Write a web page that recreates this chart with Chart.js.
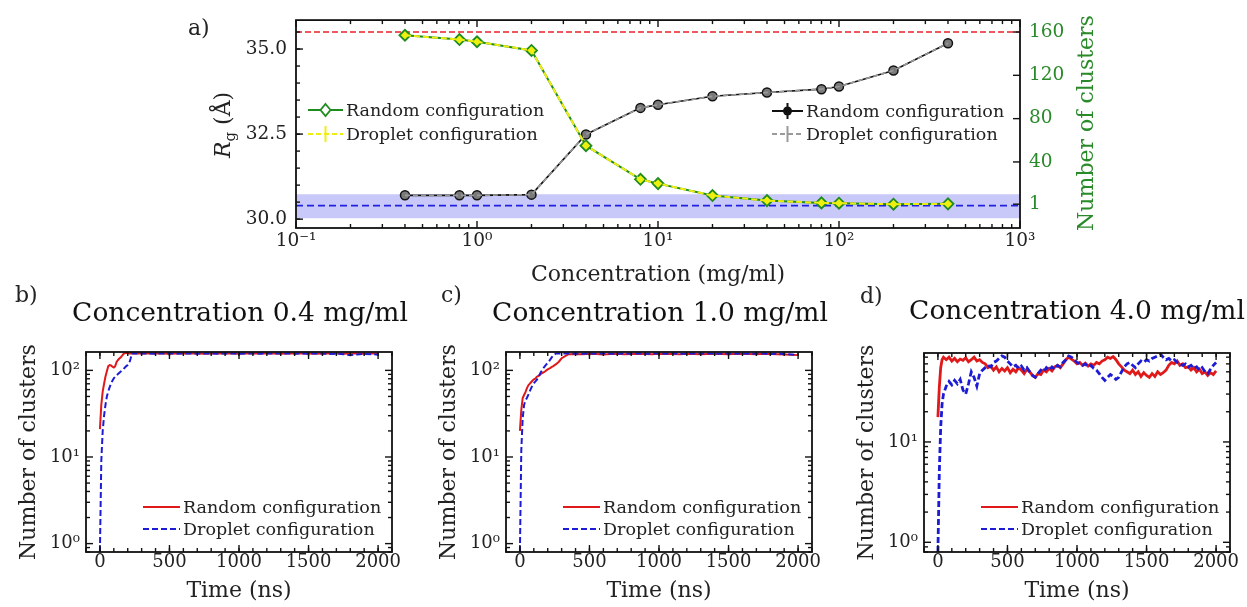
<!DOCTYPE html>
<html lang="en">
<head>
<meta charset="UTF-8">
<title>Radius of gyration and number of clusters</title>
<script src="https://cdn.jsdelivr.net/npm/chart.js@4.4.1/dist/chart.umd.min.js"></script>
<style>
  body { margin: 0; background: #fff; }
  #wrap { position: relative; width: 1247px; height: 607px; }
  #wrap canvas { position: absolute; left: 0; top: 0; }
</style>
</head>
<body>
<div id="wrap">
  <canvas id="chartA" width="1247" height="607"></canvas>
  <canvas id="chartB" width="1247" height="607"></canvas>
  <canvas id="chartC" width="1247" height="607"></canvas>
  <canvas id="chartD" width="1247" height="607"></canvas>
</div>
<script>
// ---- panel a: Rg and number of clusters vs concentration ----
const concentration = [0.4, 0.8, 1, 2, 4, 8, 10, 20, 40, 80, 100, 200, 400];
const rgRandom  = [30.70, 30.70, 30.70, 30.72, 32.49, 33.27, 33.36, 33.61, 33.72, 33.82, 33.90, 34.37, 35.17];
const rgDroplet = [30.70, 30.70, 30.70, 30.72, 32.49, 33.27, 33.36, 33.61, 33.72, 33.82, 33.90, 34.37, 35.17];
const clustersRandom  = [157, 153, 151, 143, 55, 24, 20, 9, 4.3, 2.2, 1.9, 1.0, 1.3];
const clustersDroplet = [157, 153, 151, 143, 55, 24, 20, 9, 4.3, 2.2, 1.9, 1.0, 1.3];
const refRgHigh = 35.5;          // red dashed line
const refRgLow = 30.4;           // blue dashed line
const bandRg = [30.03, 30.73];   // shaded band
const xLimitsA = [0.1, 1000];
const xTicksA = [0.1, 1, 10, 100, 1000];
const yTicksA = [30.0, 32.5, 35.0];
const y2TicksA = [1, 40, 80, 120, 160];

// ---- panels b, c: time series ----
const timeBC = [
  0, 10, 20, 30, 40, 50, 60, 70, 80, 90,
  100, 110, 120, 130, 140, 150, 160, 170, 180, 190,
  200, 210, 220, 230, 240, 260, 280, 300, 350, 400,
  450, 500, 550, 600, 650, 700, 750, 800, 850, 900,
  950, 1000, 1050, 1100, 1150, 1200, 1250, 1300, 1350, 1400,
  1450, 1500, 1550, 1600, 1650, 1700, 1750, 1800, 1850, 1900,
  1950, 2000];
const randomB = [
  21, 40, 57, 70, 85, 98, 112, 115, 114, 110,
  108, 112, 125, 132, 137, 142, 148, 155, 158, 160,
  158, 157, 158, 157, 158, 157, 158, 157, 158, 157,
  157, 156, 157, 158, 157, 157, 156, 157, 158, 157,
  157, 156, 157, 157, 158, 157, 157, 156, 157, 157,
  158, 157, 156, 157, 157, 157, 156, 157, 157, 156,
  157, 157];
const dropletB = [
  0.8, 9, 20, 30, 40, 50, 57, 64, 70, 76,
  81, 85, 88, 91, 94, 97, 100, 104, 108, 112,
  115, 120, 135, 158, 157, 157, 156, 157, 157, 156,
  157, 157, 156, 157, 157, 156, 157, 157, 156, 157,
  157, 156, 157, 157, 156, 157, 156, 157, 157, 156,
  157, 156, 157, 156, 155, 156, 154, 150, 153, 155,
  154, 152];
const randomC = [
  20, 35, 48, 52, 56, 62, 67, 70, 73, 76,
  79, 80, 84, 86, 88, 91, 93, 95, 97, 100,
  103, 105, 107, 110, 112, 118, 126, 138, 154, 155,
  154, 156, 155, 153, 155, 156, 154, 155, 156, 155,
  154, 156, 155, 155, 154, 156, 155, 154, 155, 156,
  155, 154, 156, 155, 155, 154, 156, 155, 154, 153,
  152, 150];
const dropletC = [
  0.8, 12, 28, 40, 45, 48, 52, 57, 62, 67,
  71, 74, 77, 82, 88, 95, 101, 107, 112, 117,
  122, 128, 135, 142, 150, 157, 157, 156, 157, 156,
  156, 157, 156, 157, 156, 156, 157, 156, 157, 156,
  156, 157, 156, 157, 156, 156, 157, 156, 157, 156,
  156, 157, 156, 157, 156, 156, 157, 155, 156, 155,
  153, 150];

// ---- panel d ----
const timeD = [
  0, 10, 20, 30, 40,
  60, 80, 100, 120, 140, 160, 180, 200, 220, 240,
  260, 280, 300, 320, 340, 360, 380, 400, 420, 440,
  460, 480, 500, 520, 540, 560, 580, 600, 620, 640,
  660, 680, 700, 720, 740, 760, 780, 800, 820, 840,
  860, 880, 900, 920, 940, 960, 980, 1000, 1020, 1040,
  1060, 1080, 1100, 1120, 1140, 1160, 1180, 1200, 1220, 1240,
  1260, 1280, 1300, 1320, 1340, 1360, 1380, 1400, 1420, 1440,
  1460, 1480, 1500, 1520, 1540, 1560, 1580, 1600, 1620, 1640,
  1660, 1680, 1700, 1720, 1740, 1760, 1780, 1800, 1820, 1840,
  1860, 1880, 1900, 1920, 1940, 1960, 1980, 2000];
const randomD = [
  17.7, 35, 55, 66, 70,
  66, 70, 64, 68, 63, 67, 65, 69, 63, 66,
  70, 64, 66, 62, 60, 55, 57, 52, 56, 50,
  54, 51, 55, 49, 53, 50, 55, 52, 48, 53,
  50, 46, 44, 48, 47, 52, 50, 54, 51, 56,
  58, 55, 60, 66, 70, 67, 64, 60, 62, 58,
  61, 57, 60, 58, 62, 60, 64, 66, 70, 68,
  71, 66, 60, 56, 52, 50, 48, 52, 47, 50,
  45, 49, 46, 44, 48, 45, 50, 47, 49, 52,
  58, 62, 60, 64, 58, 60, 55, 56, 52, 55,
  50, 53, 48, 50, 46, 49, 47, 51];
const dropletD = [
  0.8, 5, 14, 24, 30,
  36, 40, 37, 41, 38, 42, 33, 30, 38, 50,
  44, 36, 48, 52, 55, 58, 56, 62, 64, 68,
  72, 70, 64, 60, 56, 58, 54, 57, 52, 55,
  50, 46, 44, 48, 52, 50, 55, 52, 56, 53,
  58, 56, 62, 66, 72, 70, 66, 62, 60, 58,
  60, 56, 58, 54, 52, 48, 44, 41, 44, 47,
  45, 42, 44, 50, 56, 60, 62, 58, 55, 60,
  64, 62, 66, 64, 68, 70, 72, 75, 70, 66,
  68, 64, 66, 62, 60, 58, 60, 56, 58, 54,
  56, 52, 55, 50, 48, 53, 58, 62];
const timeTicks = [0, 500, 1000, 1500, 2000];
const logTicks = [1, 10, 100];

const W = 1247, H = 607;
const FONT = 'DejaVu Serif';
const GREEN = '#2a8a2a';
const INK = '#222';
Chart.defaults.font.family = FONT;

const pts = (xs, ys) => xs.map((x, i) => ({ x: x, y: ys[i] }));
const SUP = { '-': '\u207B', '0': '\u2070', '1': '\u00B9', '2': '\u00B2', '3': '\u00B3' };
const pow10 = v => '10' + String(Math.round(Math.log10(v))).split('').map(c => SUP[c]).join('');
const logMinors = (lo, hi) => {
  const out = [];
  for (let e = lo; e < hi; e++) for (let k = 2; k <= 9; k++) out.push(k * Math.pow(10, e));
  return out;
};
const timeMinors = [];
for (let t = -100; t <= 2100; t += 100) timeMinors.push(t);
const yMinorA = [];
for (let v = 29.5; v <= 36; v += 0.5) yMinorA.push(v);

// inward matplotlib-style ticks + frame (marks kept in the closure)
function framePlugin(marks) {
  return {
    id: 'frame',
    afterDatasetsDraw(chart) {
      const { ctx, chartArea: a } = chart;
      const seg = (x1, y1, x2, y2) => { ctx.beginPath(); ctx.moveTo(x1, y1); ctx.lineTo(x2, y2); ctx.stroke(); };
      ctx.save();
      ctx.strokeStyle = '#111';
      ctx.lineWidth = 1.4;
      marks.forEach(m => {
        const sc = chart.scales[m.axis];
        m.values.forEach(v => {
          const p = sc.getPixelForValue(v);
          if (sc.isHorizontal()) {
            if (p < a.left - 0.5 || p > a.right + 0.5) return;
            if (m.sides.indexOf('bottom') >= 0) seg(p, a.bottom, p, a.bottom - m.len);
            if (m.sides.indexOf('top') >= 0) seg(p, a.top, p, a.top + m.len);
          } else {
            if (p < a.top - 0.5 || p > a.bottom + 0.5) return;
            if (m.sides.indexOf('left') >= 0) seg(a.left, p, a.left + m.len, p);
            if (m.sides.indexOf('right') >= 0) seg(a.right, p, a.right - m.len, p);
          }
        });
      });
      ctx.lineWidth = 1.8;
      ctx.strokeRect(a.left, a.top, a.right - a.left, a.bottom - a.top);
      ctx.restore();
    }
  };
}

// free text: titles, axis names, panel letters
const notesPlugin = {
  id: 'notes',
  afterDraw(chart, args, opts) {
    const ctx = chart.ctx;
    (opts.items || []).forEach(it => {
      ctx.save();
      ctx.translate(it.x, it.y);
      if (it.rotate) ctx.rotate(it.rotate);
      ctx.textBaseline = 'alphabetic';
      ctx.textAlign = 'left';
      ctx.fillStyle = it.color || INK;
      const parts = it.parts || [{ text: it.text, font: it.font }];
      let total = 0;
      parts.forEach(p => { ctx.font = p.font; total += ctx.measureText(p.text).width; });
      let x = it.align === 'left' ? 0 : -total / 2;
      parts.forEach(p => {
        ctx.font = p.font;
        ctx.fillText(p.text, x, p.dy || 0);
        x += ctx.measureText(p.text).width;
      });
      ctx.restore();
    });
  }
};

// hand placed legends
const keysPlugin = {
  id: 'keys',
  afterDraw(chart, args, opts) {
    const ctx = chart.ctx;
    (opts.items || []).forEach(k => {
      const xm = (k.x0 + k.x1) / 2;
      ctx.save();
      ctx.strokeStyle = k.color;
      ctx.lineWidth = k.width || 2;
      ctx.setLineDash(k.dash || []);
      ctx.beginPath(); ctx.moveTo(k.x0, k.y); ctx.lineTo(k.x1, k.y); ctx.stroke();
      ctx.setLineDash([]);
      if (k.marker === 'diamond') {
        ctx.fillStyle = '#fff';
        ctx.lineWidth = 1.8;
        ctx.beginPath();
        ctx.moveTo(xm, k.y - 6); ctx.lineTo(xm + 5, k.y); ctx.lineTo(xm, k.y + 6); ctx.lineTo(xm - 5, k.y);
        ctx.closePath(); ctx.fill(); ctx.stroke();
      } else if (k.marker === 'bar' || k.marker === 'dotBar') {
        ctx.lineWidth = 2;
        ctx.beginPath(); ctx.moveTo(xm, k.y - 8); ctx.lineTo(xm, k.y + 8); ctx.stroke();
        if (k.marker === 'dotBar') {
          ctx.fillStyle = k.color;
          ctx.beginPath(); ctx.arc(xm, k.y, 4.5, 0, Math.PI * 2); ctx.fill();
        }
      }
      ctx.fillStyle = INK;
      ctx.font = (opts.size || 17.5) + 'px ' + FONT;
      ctx.textBaseline = 'middle';
      ctx.fillText(k.label, k.x1 + 3, k.y + 1);
      ctx.restore();
    });
  }
};

const noGrid = { display: false, drawTicks: false };
const noBorder = { display: false };

// ---------- panel a ----------
const areaA = { left: 296, right: 1020, top: 19, bottom: 228 };
new Chart(document.getElementById('chartA'), {
  type: 'line',
  data: {
    datasets: [
      { label: 'Droplet configuration', data: pts(concentration, clustersDroplet), yAxisID: 'y2',
        borderColor: '#f0ee10', borderWidth: 2, borderDash: [6, 3], pointRadius: 0 },
      { label: 'Random configuration', data: pts(concentration, clustersRandom), yAxisID: 'y2',
        borderColor: '#1e8c1e', borderWidth: 2, pointStyle: 'rectRot', pointRadius: 5.5,
        pointBackgroundColor: '#eef010', pointBorderColor: '#1e8c1e', pointBorderWidth: 1.8 },
      { label: 'Droplet configuration', data: pts(concentration, rgDroplet), yAxisID: 'y',
        borderColor: '#9a9a9a', borderWidth: 1.6, borderDash: [5, 3], pointRadius: 0 },
      { label: 'Random configuration', data: pts(concentration, rgRandom), yAxisID: 'y',
        borderColor: '#111', borderWidth: 1.6, pointStyle: 'circle', pointRadius: 4.5,
        pointBackgroundColor: '#7a7a7a', pointBorderColor: '#111', pointBorderWidth: 1.5 },
      { label: 'upper', data: pts(xLimitsA, [refRgHigh, refRgHigh]), yAxisID: 'y',
        borderColor: '#e8202a', borderWidth: 1.5, borderDash: [6, 3], pointRadius: 0 },
      { label: 'lower', data: pts(xLimitsA, [refRgLow, refRgLow]), yAxisID: 'y',
        borderColor: '#2020e0', borderWidth: 1.8, borderDash: [7, 4], pointRadius: 0 },
      { label: 'band', data: pts(xLimitsA, [bandRg[1], bandRg[1]]), yAxisID: 'y',
        borderWidth: 0, pointRadius: 0, backgroundColor: 'rgba(110,110,240,0.38)',
        fill: { value: bandRg[0] } }
    ]
  },
  options: {
    responsive: false, animation: false, events: [], devicePixelRatio: 1,
    layout: { padding: { left: areaA.left - 60, right: W - areaA.right - 60, top: areaA.top, bottom: H - areaA.bottom - 40 } },
    scales: {
      x: {
        type: 'logarithmic', min: xLimitsA[0], max: xLimitsA[1], grid: noGrid, border: noBorder,
        ticks: { autoSkip: false, maxRotation: 0, padding: 2, color: INK, font: { size: 18.5 }, callback: v => pow10(v) },
        afterBuildTicks: s => { s.ticks = xTicksA.map(v => ({ value: v })); },
        afterFit: s => { s.height = 40; }
      },
      y: {
        type: 'linear', position: 'left', min: 29.74, max: 35.85, grid: noGrid, border: noBorder,
        ticks: { autoSkip: false, padding: 9, color: INK, font: { size: 18.5 }, callback: v => v.toFixed(1) },
        afterBuildTicks: s => { s.ticks = yTicksA.map(v => ({ value: v })); },
        afterFit: s => { s.width = 60; }
      },
      y2: {
        type: 'linear', position: 'right', min: -21, max: 171, grid: noGrid, border: noBorder,
        ticks: { autoSkip: false, padding: 9, color: GREEN, font: { size: 18.5 }, callback: v => String(v) },
        afterBuildTicks: s => { s.ticks = y2TicksA.map(v => ({ value: v })); },
        afterFit: s => { s.width = 60; }
      }
    },
    plugins: {
      legend: { display: false }, tooltip: { enabled: false },
      notes: { items: [
        { text: 'a)', x: 188, y: 35, font: '22px ' + FONT, align: 'left' },
        { x: 230, y: 125, rotate: -Math.PI / 2, parts: [
          { text: 'R', font: 'italic 22px ' + FONT },
          { text: 'g', font: '15px ' + FONT, dy: 5 },
          { text: ' (\u00C5)', font: '22px ' + FONT }
        ] },
        { text: 'Number of clusters', x: 1093, y: 123, rotate: -Math.PI / 2, font: '22px ' + FONT, color: GREEN },
        { text: 'Concentration (mg/ml)', x: 658, y: 281, font: '22px ' + FONT }
      ] },
      keys: { size: 17.5, items: [
        { label: 'Random configuration', x0: 308, x1: 343, y: 110, color: '#1e8c1e', marker: 'diamond' },
        { label: 'Droplet configuration', x0: 308, x1: 343, y: 134, color: '#f0ee10', dash: [5, 3], marker: 'bar' },
        { label: 'Random configuration', x0: 772, x1: 803, y: 111, color: '#111', marker: 'dotBar' },
        { label: 'Droplet configuration', x0: 772, x1: 803, y: 134, color: '#9a9a9a', dash: [5, 3], marker: 'bar' }
      ] }
    }
  },
  plugins: [framePlugin([
    { axis: 'x', values: logMinors(-1, 3), len: 4, sides: ['bottom', 'top'] },
    { axis: 'x', values: xTicksA, len: 7, sides: ['bottom', 'top'] },
    { axis: 'y', values: yMinorA, len: 4, sides: ['left'] },
    { axis: 'y', values: yTicksA, len: 7, sides: ['left'] },
    { axis: 'y2', values: y2TicksA, len: 7, sides: ['right'] }
  ]), notesPlugin, keysPlugin]
});

// ---------- panels b, c, d ----------
function timePanel(id, p) {
  return new Chart(document.getElementById(id), {
    type: 'line',
    data: {
      datasets: [
        { label: 'Droplet configuration', data: pts(p.times, p.droplet), borderColor: '#1c1cd6',
          borderWidth: p.lw, borderDash: [6, 3], pointRadius: 0 },
        { label: 'Random configuration', data: pts(p.times, p.random), borderColor: '#e01a1a',
          borderWidth: p.lw, pointRadius: 0 }
      ]
    },
    options: {
      responsive: false, animation: false, events: [], devicePixelRatio: 1,
      layout: { padding: { left: p.area.left - 60, right: W - p.area.right, top: p.area.top, bottom: H - p.area.bottom - 40 } },
      scales: {
        x: {
          type: 'linear', min: -100, max: 2100, grid: noGrid, border: noBorder,
          ticks: { autoSkip: false, maxRotation: 0, padding: 0, color: INK, font: { size: 18 }, callback: v => String(v) },
          afterBuildTicks: s => { s.ticks = timeTicks.map(v => ({ value: v })); },
          afterFit: s => { s.height = 40; }
        },
        y: {
          type: 'logarithmic', min: 0.8, max: p.yMax, grid: noGrid, border: noBorder,
          ticks: { autoSkip: false, padding: 6, color: INK, font: { size: 18 }, callback: v => pow10(v) },
          afterBuildTicks: s => { s.ticks = logTicks.filter(v => v <= p.yMax).map(v => ({ value: v })); },
          afterFit: s => { s.width = 60; }
        }
      },
      plugins: {
        legend: { display: false }, tooltip: { enabled: false },
        notes: { items: [
          { text: p.letter, x: p.letterX, y: p.letterY, font: '22px ' + FONT, align: 'left' },
          { text: p.title, x: p.titleX, y: p.titleY, font: '26.5px ' + FONT, color: '#111' },
          { text: 'Number of clusters', x: p.area.left - 51, y: (p.area.top + p.area.bottom) / 2, rotate: -Math.PI / 2, font: '22px ' + FONT },
          { text: 'Time (ns)', x: (p.area.left + p.area.right) / 2, y: 597, font: '22px ' + FONT }
        ] },
        keys: { size: 17.5, items: [
          { label: 'Random configuration', x0: p.area.left + 57, x1: p.area.left + 94, y: 507, color: '#e01a1a' },
          { label: 'Droplet configuration', x0: p.area.left + 57, x1: p.area.left + 94, y: 529, color: '#1c1cd6', dash: [6, 3] }
        ] }
      }
    },
    plugins: [framePlugin([
      { axis: 'x', values: timeMinors, len: 4, sides: ['bottom', 'top'] },
      { axis: 'x', values: timeTicks, len: 7, sides: ['bottom', 'top'] },
      { axis: 'y', values: logMinors(-1, 3), len: 4, sides: ['left', 'right'] },
      { axis: 'y', values: logTicks, len: 7, sides: ['left', 'right'] }
    ]), notesPlugin, keysPlugin]
  });
}

timePanel('chartB', {
  area: { left: 86, right: 392, top: 352, bottom: 552 }, times: timeBC, random: randomB, droplet: dropletB,
  yMax: 163, lw: 2, letter: 'b)', letterX: 15, letterY: 302,
  title: 'Concentration 0.4 mg/ml', titleX: 240, titleY: 321
});
timePanel('chartC', {
  area: { left: 506, right: 812, top: 352, bottom: 552 }, times: timeBC, random: randomC, droplet: dropletC,
  yMax: 163, lw: 2, letter: 'c)', letterX: 441, letterY: 302,
  title: 'Concentration 1.0 mg/ml', titleX: 660, titleY: 321
});
timePanel('chartD', {
  area: { left: 924, right: 1230, top: 353, bottom: 552 }, times: timeD, random: randomD, droplet: dropletD,
  yMax: 77, lw: 2.8, letter: 'd)', letterX: 860, letterY: 303,
  title: 'Concentration 4.0 mg/ml', titleX: 1077, titleY: 319
});
</script>
</body>
</html>
